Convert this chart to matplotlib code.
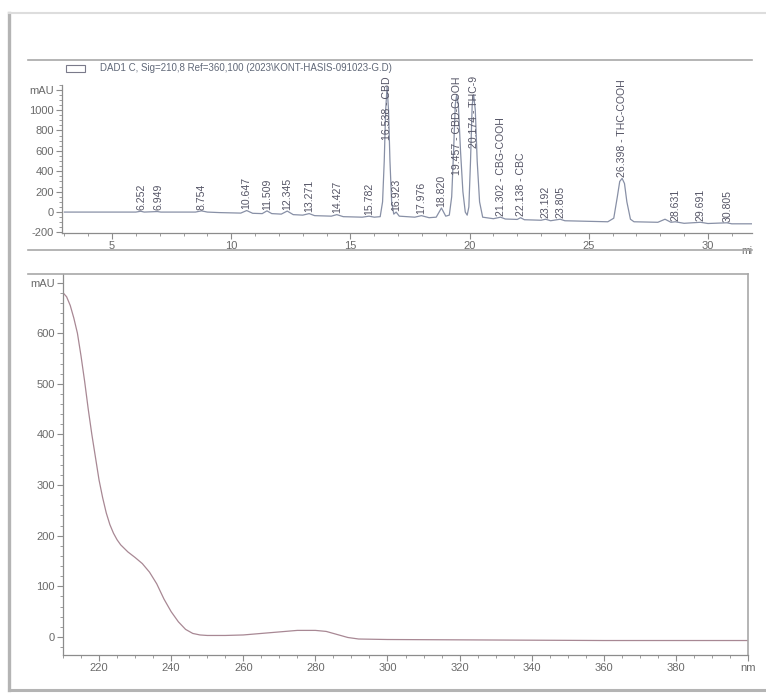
import matplotlib
matplotlib.use("Agg")
import matplotlib.pyplot as plt
from matplotlib.lines import Line2D
from matplotlib.patches import Rectangle
from matplotlib.ticker import MultipleLocator

plt.rcParams['font.family'] = ['Liberation Sans', 'DejaVu Sans']

# chromatogram trace (min, mAU)
rt = [3.0, 6.0, 6.2, 6.35, 6.9, 7.05, 8.5, 8.75, 9.0, 9.5, 10.4, 10.65, 10.9,
      11.3, 11.5, 11.7, 12.1, 12.35, 12.6, 13.0, 13.27, 13.5, 14.2, 14.43,
      14.7, 15.5, 15.78, 16.0, 16.25, 16.35, 16.42, 16.48, 16.54, 16.60,
      16.66, 16.73, 16.82, 16.92, 17.05, 17.7, 17.98, 18.3, 18.6, 18.82,
      19.0, 19.15, 19.25, 19.33, 19.40, 19.46, 19.53, 19.62, 19.72, 19.82,
      19.9, 19.97, 20.04, 20.11, 20.17, 20.24, 20.32, 20.42, 20.55, 21.0,
      21.3, 21.5, 22.0, 22.14, 22.3, 23.0, 23.19, 23.4, 23.8, 24.0, 25.8,
      26.05, 26.2, 26.3, 26.4, 26.5, 26.6, 26.75, 26.9, 27.9, 28.2, 28.45,
      28.63, 29.0, 29.69, 30.0, 30.8, 31.0, 31.85]
signal = [0, 0, 8, 0, 5, 0, 0, 12, 0, -5, -10, 15, -12,
          -15, 12, -15, -20, 10, -25, -30, -15, -35, -40, -25,
          -45, -50, -40, -50, -45, 100, 500, 1000, 1230, 1000,
          500, 100, -20, 0, -40, -50, -35, -55, -50, 40,
          -40, -30, 150, 600, 1050, 1150, 1050, 600, 200, 0,
          -30, 50, 500, 1050, 1150, 1000, 500, 100, -50, -65,
          -50, -68, -72, -55, -75, -80, -70, -85, -70, -85, -95,
          -60, 150, 300, 330, 280, 100, -70, -95, -100, -70, -100,
          -95, -110, -100, -112, -105, -115, -115]

# peak annotations
peak_rt = [6.252, 6.949, 8.754, 10.647, 11.509, 12.345, 13.271, 14.427, 15.782,
           16.538, 16.923, 17.976, 18.820, 19.457, 20.174, 21.302, 22.138,
           23.192, 23.805, 26.398, 28.631, 29.691, 30.805]
peak_height = [8, 5, 12, 15, 12, 10, -15, -25, -40,
               1230, 0, -35, 40, 1150, 1150, -50, -55,
               -70, -70, 330, -95, -100, -105]
peak_name = ["", "", "", "", "", "", "", "", "",
             "CBD", "", "", "", "CBD-COOH", "THC-9", "CBG-COOH", "CBC",
             "", "", "THC-COOH", "", "", ""]

# UV spectrum (nm, mAU)
wl = [210, 211, 212, 213, 214, 215, 216, 217, 218, 219, 220, 221, 222, 223, 224,
      225, 226, 228, 230, 232, 234, 236, 238, 240, 242, 244, 246, 248, 250,
      255, 260, 265, 270, 275, 280, 283, 286, 289, 292, 300, 330, 360, 400]
absorb = [680, 672, 655, 630, 600, 555, 505, 450, 400, 355, 310, 275, 245, 222, 205,
          192, 182, 168, 157, 145, 128, 105, 75, 50, 30, 15, 7, 4, 3,
          3, 4, 7, 10, 13, 13, 11, 5, -1, -4, -5, -6, -7, -7]

W, H = 766, 694
txt = '#6a6a6a'
axc = '#8c8c8c'

fig = plt.figure(figsize=(W / 100, H / 100), dpi=100)


def fx(px):
    return px / W


def fy(py):
    return 1 - py / H


# outer frame (left, top, bottom) and panel lines
for xs, ys, c, w in [((9, 9), (13, 690), '#b4b4b4', 2.4),
                     ((9, 766), (690, 690), '#b4b4b4', 2.2),
                     ((9, 766), (13, 13), '#dddddd', 1.5),
                     ((28, 752), (60, 60), '#a8a8a8', 1.2),
                     ((28, 752), (250, 250), '#a8a8a8', 1.2),
                     ((28, 748), (274, 274), '#a8a8a8', 1.2)]:
    fig.lines.append(Line2D([fx(v) for v in xs], [fy(v) for v in ys],
                            transform=fig.transFigure, color=c, lw=w))

# ---- top: chromatogram
ax1 = fig.add_axes([fx(62), fy(233), fx(752) - fx(62), fy(84.5) - fy(233)])
ax1.plot(rt, signal, color='#8890a6', lw=0.9)
ax1.set_xlim(2.9, 31.85)
ax1.set_ylim(-205, 1250)
ax1.set_yticks([-200, 0, 200, 400, 600, 800, 1000, 1200])
ax1.set_yticklabels(['-200', '0', '200', '400', '600', '800', '1000', 'mAU'])
ax1.yaxis.set_minor_locator(MultipleLocator(50))
ax1.set_xticks([5, 10, 15, 20, 25, 30])
ax1.xaxis.set_minor_locator(MultipleLocator(1))
for s in ['top', 'right']:
    ax1.spines[s].set_visible(False)
ax1.text(1.0, -0.09, 'mi', transform=ax1.transAxes, fontsize=7.5, color=txt,
         ha='right', va='top')

for t, h, name in zip(peak_rt, peak_height, peak_name):
    label = f'{t:.3f}' + (f' - {name}' if name else '')
    if h > 500:
        ax1.text(t, 1330, label, rotation=90, ha='center', va='top', fontsize=7.6,
                 color='#555566', clip_on=False)
    else:
        ax1.text(t, h + 12, label, rotation=90, ha='center', va='bottom', fontsize=7.6,
                 color='#555566')

ax1.add_patch(Rectangle((0.006, 1.085), 0.027, 0.045, transform=ax1.transAxes,
                        fill=False, edgecolor='#7a7a8a', lw=0.8, clip_on=False))
ax1.text(0.055, 1.108, 'DAD1 C, Sig=210,8 Ref=360,100 (2023\\KONT-HASIS-091023-G.D)',
         transform=ax1.transAxes, fontsize=7, color='#606878', va='center')

# ---- bottom: UV spectrum
ax2 = fig.add_axes([fx(63), fy(654.7), fx(748) - fx(63), fy(274) - fy(654.7)])
ax2.plot(wl, absorb, color='#a88894', lw=0.9)
ax2.set_xlim(210, 400)
ax2.set_ylim(-35, 717)
ax2.set_yticks([0, 100, 200, 300, 400, 500, 600, 700])
ax2.set_yticklabels(['0', '100', '200', '300', '400', '500', '600', 'mAU'])
ax2.yaxis.set_minor_locator(MultipleLocator(20))
ax2.set_xticks([220, 240, 260, 280, 300, 320, 340, 360, 380, 400])
ax2.set_xticklabels(['220', '240', '260', '280', '300', '320', '340', '360', '380', 'nm'])
ax2.xaxis.set_minor_locator(MultipleLocator(5))
ax2.spines['top'].set_visible(False)

for ax in (ax1, ax2):
    for s in ax.spines.values():
        s.set_color(axc)
        s.set_linewidth(0.9)
    ax.tick_params(which='major', length=4, width=0.8, color=axc, labelsize=8,
                   labelcolor=txt, pad=2)
    ax.tick_params(which='minor', length=2, width=0.6, color=axc)
ax2.spines['right'].set_color('#a8a8a8')
ax2.spines['right'].set_linewidth(1.2)

fig.savefig('out.png', dpi=100)
